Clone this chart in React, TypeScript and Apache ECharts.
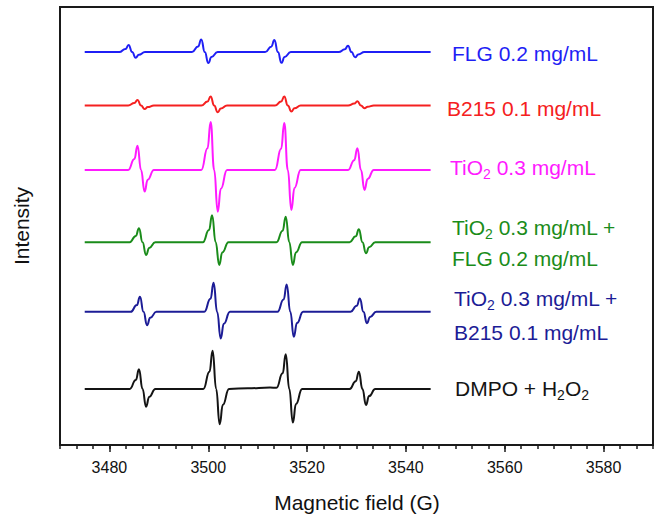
import React, { useEffect, useRef } from "react";
import * as echarts from "echarts";

// Magnetic field axis (G)
const fieldMin = 3470;
const fieldMax = 3590;
const tickValues = [3480, 3500, 3520, 3540, 3560, 3580];

// EPR spectra: [field (G), intensity relative to each trace's baseline]
const flg: [number, number][] = [
  [3475.0, 0],
  [3482.0, 0], [3483.25, 0.72], [3483.88, 1.6], [3484.6, 0], [3485.32, -1.3], [3485.95, -0.59], [3487.2, 0],
  [3496.7, 0], [3497.95, 1.3], [3498.58, 2.9], [3499.3, 0], [3500.02, -2.5], [3500.65, -1.13], [3501.9, 0],
  [3511.5, 0], [3512.75, 1.24], [3513.38, 2.75], [3514.1, 0], [3514.82, -2.45], [3515.45, -1.1], [3516.7, 0],
  [3526.4, 0], [3527.65, 0.65], [3528.28, 1.45], [3529.0, 0], [3529.72, -1.2], [3530.35, -0.54], [3531.6, 0],
  [3545.0, 0],
];

const b215: [number, number][] = [
  [3475.0, 0],
  [3483.8, 0], [3485.05, 0.58], [3485.68, 1.28], [3486.4, 0], [3487.12, -0.78], [3487.75, -0.35], [3489.0, 0],
  [3498.6, 0], [3499.85, 0.92], [3500.48, 2.05], [3501.2, 0], [3501.92, -1.53], [3502.55, -0.69], [3503.8, 0],
  [3513.5, 0], [3514.75, 0.92], [3515.38, 2.05], [3516.1, 0], [3516.82, -1.37], [3517.45, -0.62], [3518.7, 0],
  [3528.3, 0], [3529.55, 0.44], [3530.18, 0.98], [3530.9, 0], [3531.62, -0.62], [3532.25, -0.28], [3533.5, 0],
  [3545.0, 0],
];

const tio2: [number, number][] = [
  [3475.0, 0],
  [3483.8, 0], [3485.05, 2.5], [3485.68, 5.55], [3486.4, 0], [3487.12, -4.95], [3487.75, -2.23], [3489.0, 0],
  [3498.6, 0], [3499.85, 4.93], [3500.48, 10.96], [3501.2, 0], [3501.92, -9.52], [3502.55, -4.28], [3503.8, 0],
  [3513.5, 0], [3514.75, 4.83], [3515.38, 10.73], [3516.1, 0], [3516.82, -9.13], [3517.45, -4.11], [3518.7, 0],
  [3528.3, 0], [3529.55, 2.23], [3530.18, 4.95], [3530.9, 0], [3531.62, -4.57], [3532.25, -2.06], [3533.5, 0],
  [3545.0, 0],
];

const tio2Flg: [number, number][] = [
  [3475.0, 0],
  [3484.1, 0], [3485.35, 1.44], [3485.98, 3.2], [3486.7, 0], [3487.42, -2.9], [3488.05, -1.31], [3489.3, 0],
  [3498.9, 0], [3500.15, 2.77], [3500.78, 6.16], [3501.5, 0], [3502.22, -5.18], [3502.85, -2.33], [3504.1, 0],
  [3513.8, 0], [3515.05, 2.63], [3515.68, 5.84], [3516.4, 0], [3517.12, -5.18], [3517.75, -2.33], [3519.0, 0],
  [3528.6, 0], [3529.85, 1.34], [3530.48, 2.97], [3531.2, 0], [3531.92, -2.51], [3532.55, -1.13], [3533.8, 0],
  [3545.0, 0],
];

const tio2B215: [number, number][] = [
  [3475.0, 0],
  [3484.3, 0], [3485.55, 1.54], [3486.18, 3.42], [3486.9, 0], [3487.62, -3.04], [3488.25, -1.37], [3489.5, 0],
  [3499.2, 0], [3500.45, 2.98], [3501.08, 6.62], [3501.8, 0], [3502.52, -6.07], [3503.15, -2.73], [3504.4, 0],
  [3514.0, 0], [3515.25, 2.82], [3515.88, 6.26], [3516.6, 0], [3517.32, -5.71], [3517.95, -2.57], [3519.2, 0],
  [3528.8, 0], [3530.05, 1.38], [3530.68, 3.06], [3531.4, 0], [3532.12, -2.58], [3532.75, -1.16], [3534.0, 0],
  [3545.0, 0],
];

const dmpo: [number, number][] = [
  [3475.0, 0],
  [3484.1, 0], [3485.35, 2.03], [3485.98, 4.5], [3486.7, 0], [3487.42, -4.04], [3488.05, -1.82], [3489.3, 0],
  [3499.0, 0], [3500.25, 3.93], [3500.88, 8.74], [3501.6, 0], [3502.32, -8.06], [3502.95, -3.63], [3504.2, 0],
  [3508.0, 0.15], [3512.5, 0.3],
  [3513.8, 0.25], [3515.05, 3.56], [3515.68, 7.92], [3516.4, 0], [3517.12, -7.69], [3517.75, -3.46], [3519.0, 0],
  [3528.6, 0], [3529.85, 1.78], [3530.48, 3.95], [3531.2, 0], [3531.92, -3.65], [3532.55, -1.64], [3533.8, 0],
  [3545.0, 0],
];

// Vertical stacking offsets of the spectra (top to bottom)
const traces = [flg, b215, tio2, tio2Flg, tio2B215, dmpo];
const baselines = [89.7, 77.5, 62.8, 46.3, 30.4, 12.8];
const colors = ["#1f1ff5", "#f52020", "#ff1aff", "#1a8c1a", "#1c1c96", "#141414"];

const FONT = "Liberation Sans, Arial, sans-serif";

export default function App() {
  const ref = useRef<HTMLDivElement>(null);

  useEffect(() => {
    document.body.style.margin = "0";
    if (!ref.current) return;
    const chart = echarts.init(ref.current, undefined, { renderer: "svg" });

    const series = traces.map((t, i) => ({
      type: "line",
      xAxisIndex: 0,
      yAxisIndex: 0,
      data: t.map(([x, y]) => [x, y + baselines[i]]),
      showSymbol: false,
      smooth: 0.5,
      smoothMonotone: "x",
      lineStyle: { color: colors[i], width: 2 },
      itemStyle: { color: colors[i] },
      silent: true,
    }));

    const label = (x: number, y: number, text: string, color: string) => ({
      type: "text",
      x,
      y,
      style: {
        text,
        fill: color,
        fontSize: 21,
        fontFamily: FONT,
        verticalAlign: "middle",
        rich: {
          n: { fontSize: 21, fontFamily: FONT, fill: color, color },
          s: { fontSize: 14, fontFamily: FONT, padding: [13, 0, 0, 0], fill: color, color },
        },
      },
    });

    chart.setOption({
      animation: false,
      grid: {
        left: 60,
        right: 8,
        top: 7,
        bottom: 70,
        show: true,
        borderColor: "#1a1a1a",
        borderWidth: 2,
      },
      xAxis: [
        {
          type: "value",
          min: fieldMin,
          max: fieldMax,
          axisLine: { show: true, lineStyle: { color: "#1a1a1a", width: 2 } },
          axisTick: {
            show: true,
            length: 7,
            customValues: tickValues,
            lineStyle: { color: "#1a1a1a", width: 1.5 },
          },
          axisLabel: {
            customValues: tickValues,
            formatter: (v: number) => String(v),
            fontSize: 16,
            color: "#111",
            fontFamily: FONT,
            margin: 14,
          },
          splitLine: { show: false },
        },
        {
          type: "value",
          min: fieldMin,
          max: fieldMax,
          interval: 10 / 3,
          position: "bottom",
          axisLine: { show: false },
          axisTick: { show: true, length: 4, lineStyle: { color: "#1a1a1a", width: 1.5 } },
          axisLabel: { show: false },
          splitLine: { show: false },
        },
      ],
      yAxis: {
        type: "value",
        min: 0,
        max: 100,
        axisLine: { show: false },
        axisTick: { show: false },
        axisLabel: { show: false },
        splitLine: { show: false },
      },
      series,
      graphic: [
        label(452, 53, "{n|FLG 0.2 mg/mL}", colors[0]),
        label(447, 108, "{n|B215 0.1 mg/mL}", colors[1]),
        label(450, 167, "{n|TiO}{s|2}{n| 0.3 mg/mL}", colors[2]),
        label(452, 227, "{n|TiO}{s|2}{n| 0.3 mg/mL +}", colors[3]),
        label(452, 258, "{n|FLG 0.2 mg/mL}", colors[3]),
        label(454, 298, "{n|TiO}{s|2}{n| 0.3 mg/mL +}", colors[4]),
        label(454, 332, "{n|B215 0.1 mg/mL}", colors[4]),
        label(455, 388, "{n|DMPO + H}{s|2}{n|O}{s|2}", colors[5]),
        {
          type: "text",
          x: 357,
          y: 502,
          style: {
            text: "Magnetic field (G)",
            fill: "#111",
            fontSize: 21,
            fontFamily: FONT,
            align: "center",
            verticalAlign: "middle",
          },
        },
        {
          type: "text",
          x: 21,
          y: 226,
          rotation: Math.PI / 2,
          style: {
            text: "Intensity",
            fill: "#111",
            fontSize: 21,
            fontFamily: FONT,
            align: "center",
            verticalAlign: "middle",
          },
        },
      ],
    });

    return () => chart.dispose();
  }, []);

  return <div ref={ref} style={{ width: 661, height: 515 }} />;
}
